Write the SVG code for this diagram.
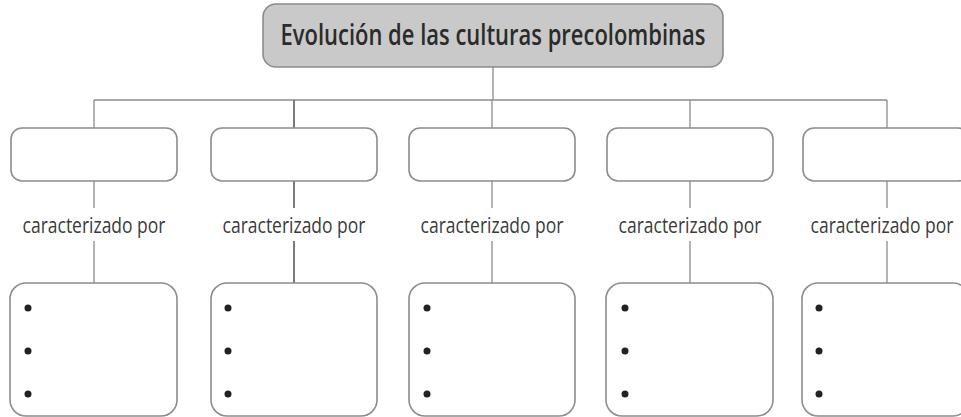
<svg xmlns="http://www.w3.org/2000/svg" width="961" height="417" viewBox="0 0 961 417">
<style>
.box{fill:#fff;stroke:#8c8c8c;stroke-width:1.6}
.title{fill:#c9c9c9;stroke:#8c8c8c;stroke-width:1.6}
.ln{stroke:#8c8c8c;stroke-width:1.3;fill:none}
.ln2{stroke:#6e6e6e;stroke-width:1.8;fill:none}
.lbl{font-family:"Open Sans","Liberation Sans",sans-serif;font-size:21px;fill:#3a3a3a;text-anchor:middle}
.tt{font-family:"Open Sans","Liberation Sans",sans-serif;font-size:28px;font-weight:600;fill:#2b2b2b;text-anchor:middle}
.dot{fill:#222}
</style>
<rect width="961" height="417" fill="#fff"/>
<g id="connectors">
<path class="ln" d="M493 67V100M94 100H887M94 100V128M492 100V128M690 100V128M887 100V128"/>
<path class="ln2" d="M294 100V128M294 181V208M294 241V283"/>
<path class="ln" d="M94 181V208M94 241V283M492 181V208M492 241V283M690 181V208M690 241V283M887 181V208M887 241V283"/>
</g>
<g id="title">
<rect class="title" x="263" y="4" width="460" height="63" rx="13"/>
<text class="tt" x="493" y="45" textLength="425" lengthAdjust="spacingAndGlyphs">Evolución de las culturas precolombinas</text>
</g>
<g id="culture1">
<rect class="box" x="11" y="128" width="166" height="53" rx="11"/>
<text class="lbl" transform="translate(94 233) scale(0.84 1)" textLength="170" lengthAdjust="spacingAndGlyphs">caracterizado por</text>
</g>
<g id="culture2">
<rect class="box" x="211" y="128" width="166" height="53" rx="11"/>
<text class="lbl" transform="translate(294 233) scale(0.84 1)" textLength="170" lengthAdjust="spacingAndGlyphs">caracterizado por</text>
</g>
<g id="culture3">
<rect class="box" x="409" y="128" width="166" height="53" rx="11"/>
<text class="lbl" transform="translate(492 233) scale(0.84 1)" textLength="170" lengthAdjust="spacingAndGlyphs">caracterizado por</text>
</g>
<g id="culture4">
<rect class="box" x="607" y="128" width="166" height="53" rx="11"/>
<text class="lbl" transform="translate(690 233) scale(0.84 1)" textLength="170" lengthAdjust="spacingAndGlyphs">caracterizado por</text>
</g>
<g id="culture5">
<rect class="box" x="803" y="128" width="166" height="53" rx="11"/>
<text class="lbl" transform="translate(882 233) scale(0.84 1)" textLength="170" lengthAdjust="spacingAndGlyphs">caracterizado por</text>
</g>
<g id="traits1">
<rect class="box" x="10" y="283" width="167" height="133" rx="16"/>
<circle class="dot" cx="28" cy="308" r="3.5"/><circle class="dot" cx="28" cy="351" r="3.5"/><circle class="dot" cx="28" cy="394" r="3.5"/>
</g>
<g id="traits2">
<rect class="box" x="211" y="283" width="166" height="133" rx="16"/>
<circle class="dot" cx="228" cy="308" r="3.5"/><circle class="dot" cx="228" cy="351" r="3.5"/><circle class="dot" cx="228" cy="394" r="3.5"/>
</g>
<g id="traits3">
<rect class="box" x="409" y="283" width="166" height="133" rx="16"/>
<circle class="dot" cx="427" cy="308" r="3.5"/><circle class="dot" cx="427" cy="351" r="3.5"/><circle class="dot" cx="427" cy="394" r="3.5"/>
</g>
<g id="traits4">
<rect class="box" x="606" y="283" width="167" height="133" rx="16"/>
<circle class="dot" cx="625" cy="308" r="3.5"/><circle class="dot" cx="625" cy="351" r="3.5"/><circle class="dot" cx="625" cy="394" r="3.5"/>
</g>
<g id="traits5">
<rect class="box" x="802" y="283" width="167" height="133" rx="16"/>
<circle class="dot" cx="819" cy="308" r="3.5"/><circle class="dot" cx="819" cy="351" r="3.5"/><circle class="dot" cx="819" cy="394" r="3.5"/>
</g>
</svg>
